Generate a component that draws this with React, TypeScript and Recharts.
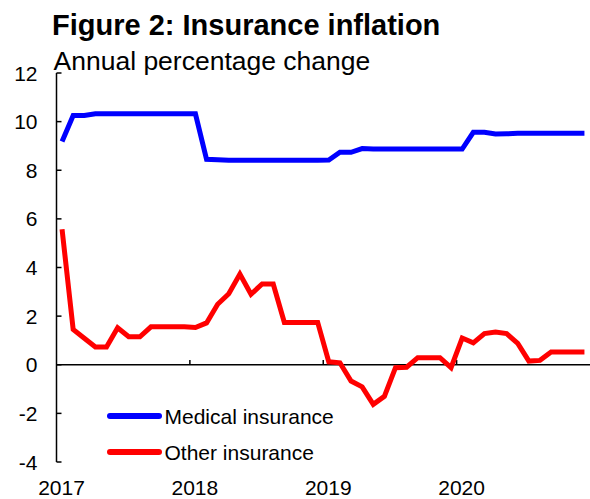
import React from "react";
import { LineChart, Line, XAxis, YAxis, ReferenceLine, Legend } from "recharts";

// monthly data, Jan 2017 - Dec 2020
const years = ["2017", "2018", "2019", "2020"];

const medical = [
  9.18, 10.25, 10.25, 10.32, 10.32, 10.32, 10.32, 10.32, 10.32, 10.32, 10.32, 10.32,
  10.32, 8.45, 8.43, 8.41, 8.41, 8.41, 8.41, 8.41, 8.41, 8.41, 8.41, 8.41,
  8.42, 8.74, 8.74, 8.89, 8.87, 8.87, 8.87, 8.87, 8.87, 8.87, 8.87, 8.87,
  8.87, 9.56, 9.56, 9.49, 9.5, 9.52, 9.52, 9.52, 9.52, 9.52, 9.52, 9.52,
];

const other = [
  5.57, 1.45, 1.09, 0.73, 0.73, 1.52, 1.15, 1.15, 1.56, 1.56, 1.56, 1.56,
  1.53, 1.72, 2.49, 2.92, 3.73, 2.9, 3.32, 3.32, 1.74, 1.74, 1.74, 1.74,
  0.12, 0.08, -0.67, -0.91, -1.63, -1.3, -0.12, -0.1, 0.29, 0.29, 0.29, -0.12,
  1.1, 0.9, 1.28, 1.35, 1.28, 0.88, 0.15, 0.18, 0.52, 0.52, 0.52, 0.52,
];

const yTicks = [-4, -2, 0, 2, 4, 6, 8, 10, 12];
const yearStarts = [0, 12, 24, 36];

// each month sits in the middle of its slot
const data = medical.map((m, i) => ({ month: i + 0.5, medical: m, other: other[i] }));

const FONT = '"Liberation Sans", Arial, sans-serif';

const YTick = ({ x, y, payload }: any) => (
  <g>
    <line x1={x} x2={x + 5} y1={y} y2={y} stroke="#000" strokeWidth={1.5} />
    <text x={x - 19} y={y} dy="0.36em" textAnchor="end" fontSize={21} fill="#000" fontFamily={FONT}>
      {payload.value}
    </text>
  </g>
);

const XTick = ({ x, y, payload }: any) => (
  <text x={x + 5} y={y + 32.7} textAnchor="middle" fontSize={21} fill="#000" fontFamily={FONT}>
    {years[Math.round(payload.value / 12)]}
  </text>
);

const LegendContent = ({ payload }: any) => (
  <svg width={260} height={72}>
    {(payload || []).map((p: any, i: number) => (
      <g key={p.value}>
        <line x1={9} x2={58} y1={18 + i * 36} y2={18 + i * 36} stroke={p.color} strokeWidth={6} strokeLinecap="round" />
        <text x={63.5} y={18 + i * 36} dy="0.36em" fontSize={21} fill="#000" fontFamily={FONT}>
          {p.value}
        </text>
      </g>
    ))}
  </svg>
);

const App: React.FC = () => {
  return (
    <div style={{ position: "absolute", left: 0, top: 0, width: 590, height: 499, fontFamily: FONT, background: "#fff" }}>
      <LineChart width={590} height={499} data={data} margin={{ top: 73, right: 0, bottom: 0, left: 0 }}>
        <XAxis
          dataKey="month"
          type="number"
          domain={[0, 48]}
          ticks={yearStarts}
          axisLine={false}
          tickLine={false}
          tickSize={0}
          tickMargin={0}
          height={37}
          tick={<XTick />}
          interval={0}
        />
        <YAxis
          type="number"
          domain={[-4, 12]}
          ticks={yTicks}
          width={56.5}
          axisLine={{ stroke: "#000", strokeWidth: 1.5 }}
          tickLine={false}
          tickSize={0}
          tickMargin={0}
          tick={<YTick />}
          interval={0}
        />
        <ReferenceLine y={0} stroke="#000" strokeWidth={1.5} />
        {yearStarts.slice(1).map((m) => (
          <ReferenceLine
            key={m}
            segment={[{ x: m, y: 0 }, { x: m, y: 0.2 }]}
            stroke="#000"
            strokeWidth={1.5}
          />
        ))}
        <Legend
          layout="vertical"
          align="center"
          verticalAlign="middle"
          content={<LegendContent />}
          wrapperStyle={{ left: 101, top: 398, width: 260, height: 72 }}
        />
        <Line
          type="linear"
          dataKey="medical"
          name="Medical insurance"
          stroke="#0000ff"
          strokeWidth={5}
          dot={false}
          isAnimationActive={false}
        />
        <Line
          type="linear"
          dataKey="other"
          name="Other insurance"
          stroke="#ff0000"
          strokeWidth={5}
          dot={false}
          isAnimationActive={false}
        />
      </LineChart>
      <div style={{ position: "absolute", left: 52, top: 10.5, fontSize: 29, lineHeight: "29px", fontWeight: "bold", color: "#000", whiteSpace: "nowrap" }}>
        Figure 2: Insurance inflation
      </div>
      <div style={{ position: "absolute", left: 53.5, top: 48.3, fontSize: 26.5, lineHeight: "26.5px", color: "#000", whiteSpace: "nowrap" }}>
        Annual percentage change
      </div>
    </div>
  );
};

export default App;
